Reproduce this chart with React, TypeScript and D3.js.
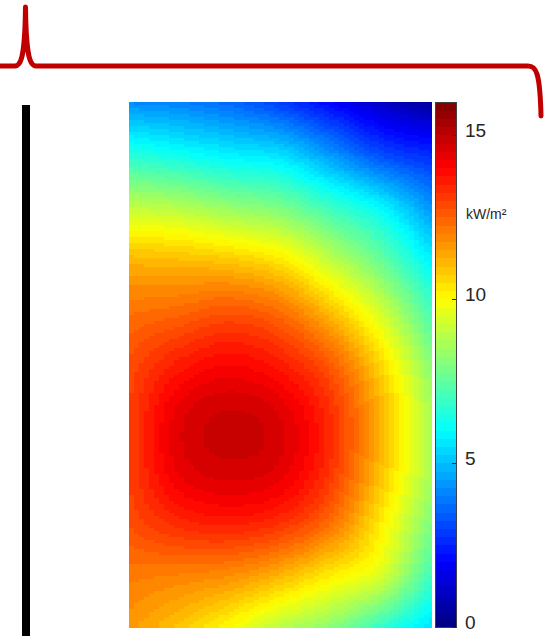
import * as d3 from 'd3';
import React, { useMemo } from 'react';

// irradiance (kW/m²), rows top -> bottom, columns left -> right
const irradiance = [
  [4.2, 4.0, 3.6, 2.9, 2.0, 1.1, 0.4],
  [6.6, 6.2, 5.8, 5.5, 4.4, 3.2, 2.6],
  [9.0, 8.8, 8.3, 7.9, 6.9, 5.9, 4.3],
  [11.1, 11.0, 10.8, 10.3, 9.0, 7.6, 5.8],
  [12.2, 12.4, 12.7, 12.3, 11.0, 9.3, 7.1],
  [12.8, 13.6, 14.0, 13.6, 12.6, 10.6, 8.1],
  [13.0, 14.4, 14.8, 14.5, 13.3, 11.2, 8.6],
  [13.0, 14.3, 14.65, 14.4, 13.2, 11.0, 8.6],
  [12.8, 13.4, 13.6, 13.3, 12.3, 10.3, 8.0],
  [12.1, 12.0, 11.8, 11.2, 10.3, 9.4, 7.0],
  [11.6, 10.9, 10.0, 8.9, 8.2, 6.8, 5.5],
];
const scaleDomain = [0, 16];
const scaleTicks = [0, 5, 10, 15];
const unitLabel = 'kW/m²';
const colorLevels = 64;

const W = 547;
const H = 636;
const map = { left: 129, right: 431, top: 102, bottom: 627 };
const bar = { left: 435, right: 456 };
const cellW = 5;
const cellH = 3;

// matlab-style jet
const jet = (t: number) => {
  const c = (v: number) => Math.max(0, Math.min(1, v)) * 255;
  return d3.rgb(c(1.5 - Math.abs(4 * t - 3)), c(1.5 - Math.abs(4 * t - 2)), c(1.5 - Math.abs(4 * t - 1))).formatHex();
};
const palette = d3.range(colorLevels).map((i) => jet((i + 0.5) / colorLevels));

// catmull-rom through the read grid, only used to shade between the samples
const cr = (p0: number, p1: number, p2: number, p3: number, t: number) =>
  0.5 * (2 * p1 + (-p0 + p2) * t + (2 * p0 - 5 * p1 + 4 * p2 - p3) * t * t + (-p0 + 3 * p1 - 3 * p2 + p3) * t * t * t);

const rows = irradiance.length;
const cols = irradiance[0].length;
const rowAt = (i: number) => {
  if (i < 0) return irradiance[0].map((v, j) => 2 * v - irradiance[1][j]);
  if (i >= rows) return irradiance[rows - 1].map((v, j) => 2 * v - irradiance[rows - 2][j]);
  return irradiance[i];
};
const valAt = (r: number[], j: number) => {
  if (j < 0) return 2 * r[0] - r[1];
  if (j >= cols) return 2 * r[cols - 1] - r[cols - 2];
  return r[j];
};
const sample = (gx: number, gy: number) => {
  const i = Math.max(0, Math.min(rows - 2, Math.floor(gy)));
  const j = Math.max(0, Math.min(cols - 2, Math.floor(gx)));
  const ty = gy - i;
  const tx = gx - j;
  const r = [-1, 0, 1, 2].map((di) => {
    const row = rowAt(i + di);
    return cr(valAt(row, j - 1), valAt(row, j), valAt(row, j + 1), valAt(row, j + 2), tx);
  });
  return cr(r[0], r[1], r[2], r[3], ty);
};

const App = () => {
  const x = d3.scaleLinear().domain([0, cols - 1]).range([map.left, map.right]);
  const y = d3.scaleLinear().domain([0, rows - 1]).range([map.top, map.bottom]);
  const color = d3.scaleQuantize<string>().domain(scaleDomain).range(palette);
  const cy = d3.scaleLinear().domain(scaleDomain).range([map.bottom, map.top]);

  const cells = useMemo(() => {
    const out: { x: number; y: number; w: number; h: number; fill: string }[] = [];
    for (let py = map.top; py < map.bottom; py += cellH) {
      const h = Math.min(cellH, map.bottom - py);
      for (let px = map.left; px < map.right; px += cellW) {
        const w = Math.min(cellW, map.right - px);
        const v = sample(x.invert(px + w / 2), y.invert(py + h / 2));
        out.push({ x: px, y: py, w, h, fill: color(Math.max(0, Math.min(15.999, v))) });
      }
    }
    return out;
    // eslint-disable-next-line react-hooks/exhaustive-deps
  }, []);

  const step = (scaleDomain[1] - scaleDomain[0]) / colorLevels;

  return (
    <svg width={W} height={H} style={{ position: 'absolute', left: 0, top: 0 }}>
      <rect width={W} height={H} fill="#fff" />
      {/* brace */}
      <path
        d="M0,66 L15,66 C22,66 25,52 25.5,7 C26,52 29,66 36,66 L528,66 C536,66 540,72 541,116"
        fill="none"
        stroke="#c00000"
        strokeWidth={5}
        strokeLinecap="round"
        strokeLinejoin="round"
      />
      <rect x={22} y={105} width={8} height={H - 105} fill="#000" />

      <g shapeRendering="crispEdges">
        {cells.map((c, i) => (
          <rect key={i} x={c.x} y={c.y} width={c.w + 0.5} height={c.h + 0.5} fill={c.fill} />
        ))}
      </g>

      {/* colour bar */}
      <g shapeRendering="crispEdges">
        {palette.map((p, i) => (
          <rect
            key={i}
            x={bar.left}
            y={cy(scaleDomain[0] + (i + 1) * step)}
            width={bar.right - bar.left}
            height={cy(scaleDomain[0] + i * step) - cy(scaleDomain[0] + (i + 1) * step) + 0.5}
            fill={p}
          />
        ))}
        <rect x={bar.left + 0.5} y={map.top + 0.5} width={bar.right - bar.left} height={map.bottom - map.top} fill="none" stroke="#404040" strokeWidth={1} />
        {scaleTicks.map((t) => (
          <line key={t} x1={bar.right - 4} x2={bar.right} y1={Math.round(cy(t)) + 0.5} y2={Math.round(cy(t)) + 0.5} stroke="#262626" />
        ))}
      </g>
      <g fontFamily="'Liberation Sans', Arial, sans-serif" fill="#262626">
        {scaleTicks.map((t) => (
          <text key={t} x={465} y={cy(t) + 2} fontSize={19}>
            {t}
          </text>
        ))}
        <text x={466} y={219} fontSize={14}>
          {unitLabel}
        </text>
      </g>
    </svg>
  );
};

export default App;
